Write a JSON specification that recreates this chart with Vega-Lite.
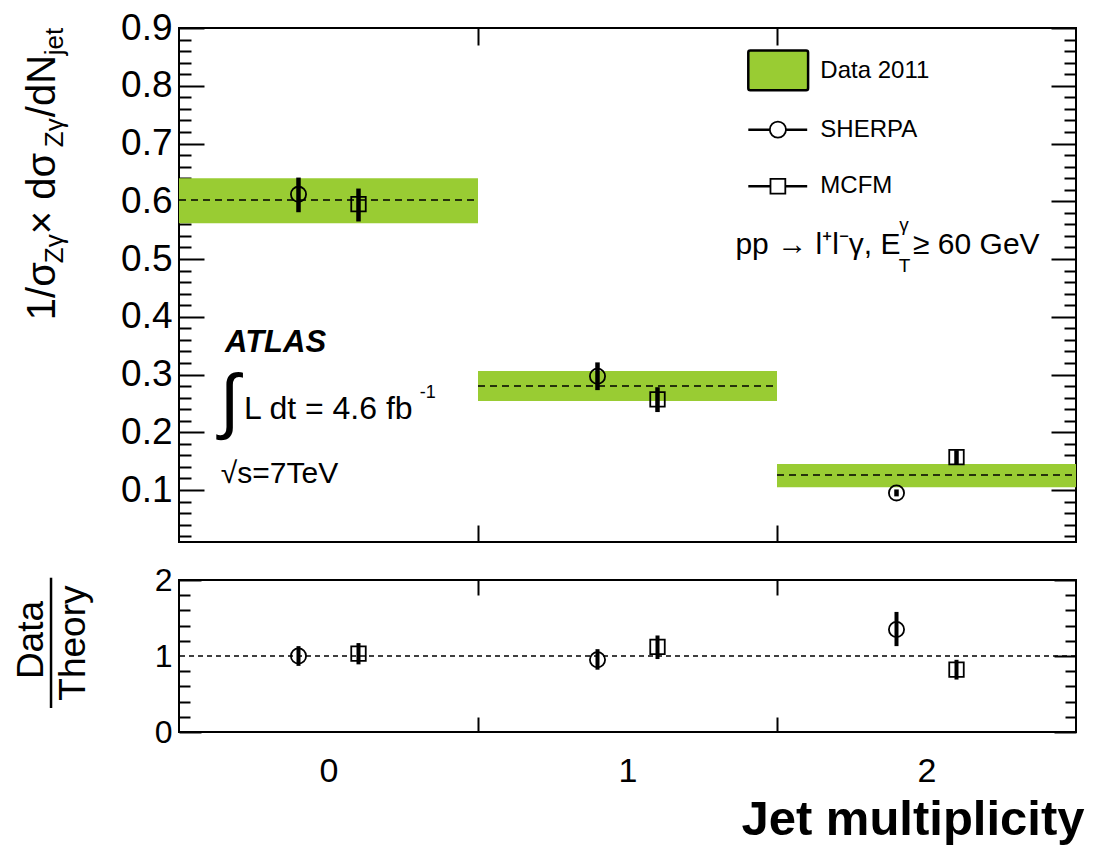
{
  "$schema": "https://vega.github.io/schema/vega-lite/v6.json",
  "padding": {"left": 12, "top": 8, "right": 5, "bottom": 0},
  "background": "white",
  "spacing": 19,
  "config": {
    "font": "Liberation Sans",
    "view": {"stroke": "black", "strokeWidth": 2},
    "axis": {"domain": false, "grid": false, "tickColor": "black", "tickWidth": 2, "labelColor": "black", "labelFont": "Liberation Sans", "titleFont": "Liberation Sans", "labelOverlap": false, "labelFlush": false, "labelBound": false}
  },
  "datasets": {
    "bands": [
      {"jet": 0, "x0": -0.5, "x1": 0.5, "c": 0.602, "lo": 0.562, "hi": 0.640},
      {"jet": 1, "x0": 0.5, "x1": 1.5, "c": 0.280, "lo": 0.254, "hi": 0.306},
      {"jet": 2, "x0": 1.5, "x1": 2.5, "c": 0.126, "lo": 0.105, "hi": 0.145}
    ],
    "theory": [
      {"jet": 0, "gen": "SHERPA", "val": 0.612, "lo": 0.581, "hi": 0.641, "ratio": 1.00, "rlo": 0.87, "rhi": 1.13},
      {"jet": 1, "gen": "SHERPA", "val": 0.297, "lo": 0.273, "hi": 0.321, "ratio": 0.95, "rlo": 0.82, "rhi": 1.09},
      {"jet": 2, "gen": "SHERPA", "val": 0.095, "lo": 0.089, "hi": 0.101, "ratio": 1.35, "rlo": 1.13, "rhi": 1.58},
      {"jet": 0, "gen": "MCFM", "val": 0.595, "lo": 0.565, "hi": 0.622, "ratio": 1.03, "rlo": 0.89, "rhi": 1.17},
      {"jet": 1, "gen": "MCFM", "val": 0.257, "lo": 0.235, "hi": 0.278, "ratio": 1.12, "rlo": 0.96, "rhi": 1.27},
      {"jet": 2, "gen": "MCFM", "val": 0.157, "lo": 0.145, "hi": 0.169, "ratio": 0.82, "rlo": 0.69, "rhi": 0.95}
    ],
    "one": [{}]
  },
  "vconcat": [
    {
      "width": 897,
      "height": 514,
      "resolve": {"axis": {"x": "independent", "y": "independent"}},
      "layer": [
        {
          "data": {"name": "bands"},
          "mark": {"type": "rect", "color": "#99cc33"},
          "encoding": {
            "x": {"field": "x0", "type": "quantitative", "scale": {"domain": [-0.5, 2.5], "nice": false, "zero": false},
                  "axis": {"orient": "bottom", "values": [0.5, 1.5], "labels": false, "tickSize": -17, "title": null}},
            "x2": {"field": "x1"},
            "y": {"field": "lo", "type": "quantitative", "scale": {"domain": [0.01, 0.9], "nice": false, "zero": false},
                  "axis": {"orient": "left", "values": [0.1, 0.2, 0.3, 0.4, 0.5, 0.6, 0.7, 0.8, 0.9], "format": ".1f", "tickSize": -25, "labelPadding": 32, "labelFontSize": 37, "labelOverlap": false, "title": null}},
            "y2": {"field": "hi"}
          }
        },
        {
          "data": {"name": "bands"},
          "mark": {"type": "rule", "color": "black", "strokeWidth": 1.5, "strokeDash": [7, 5]},
          "encoding": {
            "x": {"field": "x0", "type": "quantitative", "axis": {"orient": "top", "values": [0.5, 1.5], "labels": false, "tickSize": -17, "title": null}},
            "x2": {"field": "x1"},
            "y": {"field": "c", "type": "quantitative",
                  "axis": {"orient": "left", "values": [0.02,0.04,0.06,0.08,0.12,0.14,0.16,0.18,0.22,0.24,0.26,0.28,0.32,0.34,0.36,0.38,0.42,0.44,0.46,0.48,0.52,0.54,0.56,0.58,0.62,0.64,0.66,0.68,0.72,0.74,0.76,0.78,0.82,0.84,0.86,0.88], "labels": false, "tickSize": -12, "title": null}}
          }
        },
        {
          "data": {"name": "theory"},
          "transform": [{"filter": "datum.gen === 'SHERPA'"}],
          "mark": {"type": "rule", "color": "black", "strokeWidth": 4.5, "xOffset": -30},
          "encoding": {
            "x": {"field": "jet", "type": "quantitative", "axis": null},
            "y": {"field": "lo", "type": "quantitative",
                  "axis": {"orient": "right", "values": [0.1, 0.2, 0.3, 0.4, 0.5, 0.6, 0.7, 0.8, 0.9], "labels": false, "tickSize": -25, "title": null}},
            "y2": {"field": "hi"}
          }
        },
        {
          "data": {"name": "theory"},
          "transform": [{"filter": "datum.gen === 'SHERPA'"}],
          "mark": {"type": "point", "shape": "circle", "filled": false, "color": "black", "strokeWidth": 1.8, "size": 230, "opacity": 1, "xOffset": -30},
          "encoding": {
            "x": {"field": "jet", "type": "quantitative", "axis": null},
            "y": {"field": "val", "type": "quantitative",
                  "axis": {"orient": "right", "values": [0.02,0.04,0.06,0.08,0.12,0.14,0.16,0.18,0.22,0.24,0.26,0.28,0.32,0.34,0.36,0.38,0.42,0.44,0.46,0.48,0.52,0.54,0.56,0.58,0.62,0.64,0.66,0.68,0.72,0.74,0.76,0.78,0.82,0.84,0.86,0.88], "labels": false, "tickSize": -12, "title": null}}
          }
        },
        {
          "data": {"name": "theory"},
          "transform": [{"filter": "datum.gen === 'MCFM'"}],
          "mark": {"type": "rule", "color": "black", "strokeWidth": 4.5, "xOffset": 30},
          "encoding": {
            "x": {"field": "jet", "type": "quantitative", "axis": null},
            "y": {"field": "lo", "type": "quantitative", "axis": null},
            "y2": {"field": "hi"}
          }
        },
        {
          "data": {"name": "theory"},
          "transform": [{"filter": "datum.gen === 'MCFM'"}],
          "mark": {"type": "point", "shape": "square", "filled": false, "color": "black", "strokeWidth": 1.8, "size": 210, "opacity": 1, "xOffset": 30},
          "encoding": {
            "x": {"field": "jet", "type": "quantitative", "axis": null},
            "y": {"field": "val", "type": "quantitative", "axis": null}
          }
        },
        {
          "data": {"name": "one"},
          "mark": {"type": "rect", "fill": "#99cc33", "stroke": "black", "strokeWidth": 2.5, "cornerRadius": 2},
          "encoding": {
            "x": {"datum": 1.404, "type": "quantitative", "axis": null},
            "x2": {"datum": 1.604},
            "y": {"datum": 0.861, "type": "quantitative", "axis": null},
            "y2": {"datum": 0.792}
          }
        },
        {
          "data": {"name": "one"},
          "mark": {"type": "rule", "color": "black", "strokeWidth": 2.5},
          "encoding": {
            "x": {"datum": 1.404, "type": "quantitative", "axis": null},
            "x2": {"datum": 1.601},
            "y": {"datum": 0.724, "type": "quantitative", "axis": null}
          }
        },
        {
          "data": {"name": "one"},
          "mark": {"type": "rule", "color": "black", "strokeWidth": 2.5},
          "encoding": {
            "x": {"datum": 1.404, "type": "quantitative", "axis": null},
            "x2": {"datum": 1.601},
            "y": {"datum": 0.626, "type": "quantitative", "axis": null}
          }
        },
        {
          "data": {"name": "one"},
          "mark": {"type": "point", "shape": "circle", "filled": true, "fill": "white", "stroke": "black", "strokeWidth": 1.8, "size": 260, "opacity": 1},
          "encoding": {
            "x": {"datum": 1.503, "type": "quantitative", "axis": null},
            "y": {"datum": 0.724, "type": "quantitative", "axis": null}
          }
        },
        {
          "data": {"name": "one"},
          "mark": {"type": "point", "shape": "square", "filled": true, "fill": "white", "stroke": "black", "strokeWidth": 1.8, "size": 220, "opacity": 1},
          "encoding": {
            "x": {"datum": 1.503, "type": "quantitative", "axis": null},
            "y": {"datum": 0.626, "type": "quantitative", "axis": null}
          }
        },
        {
          "data": {"name": "one"},
          "mark": {"type": "text", "text": "Data 2011", "fontSize": 24, "align": "left", "baseline": "middle", "color": "black"},
          "encoding": {
            "x": {"datum": 1.645, "type": "quantitative", "axis": null},
            "y": {"datum": 0.826, "type": "quantitative", "axis": null}
          }
        },
        {
          "data": {"name": "one"},
          "mark": {"type": "text", "text": "SHERPA", "fontSize": 24, "align": "left", "baseline": "middle", "color": "black"},
          "encoding": {
            "x": {"datum": 1.645, "type": "quantitative", "axis": null},
            "y": {"datum": 0.724, "type": "quantitative", "axis": null}
          }
        },
        {
          "data": {"name": "one"},
          "mark": {"type": "text", "text": "MCFM", "fontSize": 24, "align": "left", "baseline": "middle", "color": "black"},
          "encoding": {
            "x": {"datum": 1.645, "type": "quantitative", "axis": null},
            "y": {"datum": 0.626, "type": "quantitative", "axis": null}
          }
        },
        {
          "data": {"name": "one"},
          "mark": {"type": "text", "text": "pp → l⁺l⁻γ, E", "fontSize": 30, "align": "left", "baseline": "alphabetic", "color": "black"},
          "encoding": {
            "x": {"datum": 1.361, "type": "quantitative", "axis": null},
            "y": {"datum": 0.508, "type": "quantitative", "axis": null}
          }
        },
        {
          "data": {"name": "one"},
          "mark": {"type": "text", "text": "γ", "fontSize": 19, "align": "left", "baseline": "alphabetic", "color": "black"},
          "encoding": {
            "x": {"datum": 1.909, "type": "quantitative", "axis": null},
            "y": {"datum": 0.549, "type": "quantitative", "axis": null}
          }
        },
        {
          "data": {"name": "one"},
          "mark": {"type": "text", "text": "T", "fontSize": 19, "align": "left", "baseline": "alphabetic", "color": "black"},
          "encoding": {
            "x": {"datum": 1.907, "type": "quantitative", "axis": null},
            "y": {"datum": 0.477, "type": "quantitative", "axis": null}
          }
        },
        {
          "data": {"name": "one"},
          "mark": {"type": "text", "text": "≥ 60 GeV", "fontSize": 30, "align": "left", "baseline": "alphabetic", "color": "black"},
          "encoding": {
            "x": {"datum": 1.955, "type": "quantitative", "axis": null},
            "y": {"datum": 0.508, "type": "quantitative", "axis": null}
          }
        },
        {
          "data": {"name": "one"},
          "mark": {"type": "text", "text": "ATLAS", "fontSize": 31, "fontWeight": "bold", "fontStyle": "italic", "align": "left", "baseline": "alphabetic", "color": "black"},
          "encoding": {
            "x": {"datum": -0.346, "type": "quantitative", "axis": null},
            "y": {"datum": 0.339, "type": "quantitative", "axis": null}
          }
        },
        {
          "data": {"name": "one"},
          "mark": {"type": "text", "text": "∫", "fontSize": 72, "align": "left", "baseline": "middle", "color": "black"},
          "encoding": {
            "x": {"datum": -0.364, "type": "quantitative", "axis": null},
            "y": {"datum": 0.251, "type": "quantitative", "axis": null}
          }
        },
        {
          "data": {"name": "one"},
          "mark": {"type": "text", "text": "L dt = 4.6 fb", "fontSize": 32, "align": "left", "baseline": "alphabetic", "color": "black"},
          "encoding": {
            "x": {"datum": -0.283, "type": "quantitative", "axis": null},
            "y": {"datum": 0.223, "type": "quantitative", "axis": null}
          }
        },
        {
          "data": {"name": "one"},
          "mark": {"type": "text", "text": "-1", "fontSize": 18, "align": "left", "baseline": "alphabetic", "color": "black"},
          "encoding": {
            "x": {"datum": 0.305, "type": "quantitative", "axis": null},
            "y": {"datum": 0.259, "type": "quantitative", "axis": null}
          }
        },
        {
          "data": {"name": "one"},
          "mark": {"type": "text", "text": "√s=7TeV", "fontSize": 30, "align": "left", "baseline": "alphabetic", "color": "black"},
          "encoding": {
            "x": {"datum": -0.36, "type": "quantitative", "axis": null},
            "y": {"datum": 0.112, "type": "quantitative", "axis": null}
          }
        },
        {
          "data": {"name": "one"},
          "mark": {"type": "text", "text": "1/σ", "fontSize": 40, "angle": 270, "align": "left", "baseline": "alphabetic", "color": "black"},
          "encoding": {
            "x": {"datum": -0.914, "type": "quantitative", "axis": null},
            "y": {"datum": 0.394, "type": "quantitative", "axis": null}
          }
        },
        {
          "data": {"name": "one"},
          "mark": {"type": "text", "text": "Zγ", "fontSize": 26, "angle": 270, "align": "left", "baseline": "alphabetic", "dx": 57, "dy": 8, "color": "black"},
          "encoding": {
            "x": {"datum": -0.914, "type": "quantitative", "axis": null},
            "y": {"datum": 0.394, "type": "quantitative", "axis": null}
          }
        },
        {
          "data": {"name": "one"},
          "mark": {"type": "text", "text": " × dσ", "fontSize": 40, "angle": 270, "align": "left", "baseline": "alphabetic", "dx": 86, "color": "black"},
          "encoding": {
            "x": {"datum": -0.914, "type": "quantitative", "axis": null},
            "y": {"datum": 0.394, "type": "quantitative", "axis": null}
          }
        },
        {
          "data": {"name": "one"},
          "mark": {"type": "text", "text": "Zγ", "fontSize": 26, "angle": 270, "align": "left", "baseline": "alphabetic", "dx": 173, "dy": 8, "color": "black"},
          "encoding": {
            "x": {"datum": -0.914, "type": "quantitative", "axis": null},
            "y": {"datum": 0.394, "type": "quantitative", "axis": null}
          }
        },
        {
          "data": {"name": "one"},
          "mark": {"type": "text", "text": "/dN", "fontSize": 40, "angle": 270, "align": "left", "baseline": "alphabetic", "dx": 203, "color": "black"},
          "encoding": {
            "x": {"datum": -0.914, "type": "quantitative", "axis": null},
            "y": {"datum": 0.394, "type": "quantitative", "axis": null}
          }
        },
        {
          "data": {"name": "one"},
          "mark": {"type": "text", "text": "jet", "fontSize": 26, "angle": 270, "align": "left", "baseline": "alphabetic", "dx": 265, "dy": 8, "color": "black"},
          "encoding": {
            "x": {"datum": -0.914, "type": "quantitative", "axis": null},
            "y": {"datum": 0.394, "type": "quantitative", "axis": null}
          }
        }
      ]
    },
    {
      "width": 897,
      "height": 152,
      "resolve": {"axis": {"x": "independent", "y": "independent"}},
      "layer": [
        {
          "data": {"name": "one"},
          "mark": {"type": "rule", "color": "black", "strokeWidth": 1.5, "strokeDash": [5, 4]},
          "encoding": {
            "y": {"datum": 1, "type": "quantitative", "scale": {"domain": [0, 2], "nice": false, "zero": false},
                  "axis": {"orient": "left", "values": [1], "format": "d", "ticks": false, "labelPadding": 7, "labelFontSize": 32, "labelOverlap": false, "title": null}}
          }
        },
        {
          "data": {"name": "theory"},
          "transform": [{"filter": "datum.gen === 'SHERPA'"}],
          "mark": {"type": "rule", "color": "black", "strokeWidth": 4, "xOffset": -30},
          "encoding": {
            "x": {"field": "jet", "type": "quantitative", "scale": {"domain": [-0.5, 2.5], "nice": false, "zero": false},
                  "axis": {"orient": "bottom", "values": [0, 1, 2], "format": "d", "ticks": false, "labelPadding": 22, "labelFontSize": 34, "labelBaseline": "top",
                           "title": "Jet multiplicity", "titleFontSize": 49, "titleFontWeight": "bold", "titleAlign": "right", "titleBaseline": "alphabetic", "titleAnchor": "end", "titleX": 905, "titleY": 102, "titleColor": "black"}},
            "y": {"field": "rlo", "type": "quantitative", "scale": {"domain": [0, 2], "nice": false, "zero": false},
                  "axis": {"orient": "left", "values": [0.2, 0.4, 0.6, 0.8, 1.2, 1.4, 1.6, 1.8], "labels": false, "tickSize": -11, "title": null}},
            "y2": {"field": "rhi"}
          }
        },
        {
          "data": {"name": "theory"},
          "transform": [{"filter": "datum.gen === 'SHERPA'"}],
          "mark": {"type": "point", "shape": "circle", "filled": false, "color": "black", "strokeWidth": 1.8, "size": 230, "opacity": 1, "xOffset": -30},
          "encoding": {
            "x": {"field": "jet", "type": "quantitative", "axis": {"orient": "bottom", "values": [0.5, 1.5], "labels": false, "tickSize": -15, "title": null}},
            "y": {"field": "ratio", "type": "quantitative",
                  "axis": {"orient": "left", "values": [0, 1, 2], "format": "d", "tickSize": -22, "labelPadding": 29, "labelFontSize": 32, "labelOverlap": false, "title": null}}
          }
        },
        {
          "data": {"name": "theory"},
          "transform": [{"filter": "datum.gen === 'MCFM'"}],
          "mark": {"type": "rule", "color": "black", "strokeWidth": 4, "xOffset": 30},
          "encoding": {
            "x": {"field": "jet", "type": "quantitative", "axis": {"orient": "top", "values": [0.5, 1.5], "labels": false, "tickSize": -15, "title": null}},
            "y": {"field": "rlo", "type": "quantitative",
                  "axis": {"orient": "right", "values": [0, 1, 2], "labels": false, "tickSize": -22, "title": null}},
            "y2": {"field": "rhi"}
          }
        },
        {
          "data": {"name": "theory"},
          "transform": [{"filter": "datum.gen === 'MCFM'"}],
          "mark": {"type": "point", "shape": "square", "filled": false, "color": "black", "strokeWidth": 1.8, "size": 210, "opacity": 1, "xOffset": 30},
          "encoding": {
            "x": {"field": "jet", "type": "quantitative", "axis": null},
            "y": {"field": "ratio", "type": "quantitative",
                  "axis": {"orient": "right", "values": [0.2, 0.4, 0.6, 0.8, 1.2, 1.4, 1.6, 1.8], "labels": false, "tickSize": -11, "title": null}}
          }
        },
        {
          "data": {"name": "one"},
          "mark": {"type": "text", "text": "Data", "fontSize": 37, "angle": 270, "align": "center", "baseline": "alphabetic", "color": "black"},
          "encoding": {
            "x": {"datum": -0.954, "type": "quantitative", "axis": null},
            "y": {"datum": 1.21, "type": "quantitative", "axis": null}
          }
        },
        {
          "data": {"name": "one"},
          "mark": {"type": "text", "text": "Theory", "fontSize": 37, "angle": 270, "align": "center", "baseline": "alphabetic", "color": "black"},
          "encoding": {
            "x": {"datum": -0.814, "type": "quantitative", "axis": null},
            "y": {"datum": 1.17, "type": "quantitative", "axis": null}
          }
        },
        {
          "data": {"name": "one"},
          "mark": {"type": "rule", "color": "black", "strokeWidth": 2.5},
          "encoding": {
            "x": {"datum": -0.928, "type": "quantitative", "axis": null},
            "y": {"datum": 2.03, "type": "quantitative", "axis": null},
            "y2": {"datum": 0.316}
          }
        }
      ]
    }
  ]
}
